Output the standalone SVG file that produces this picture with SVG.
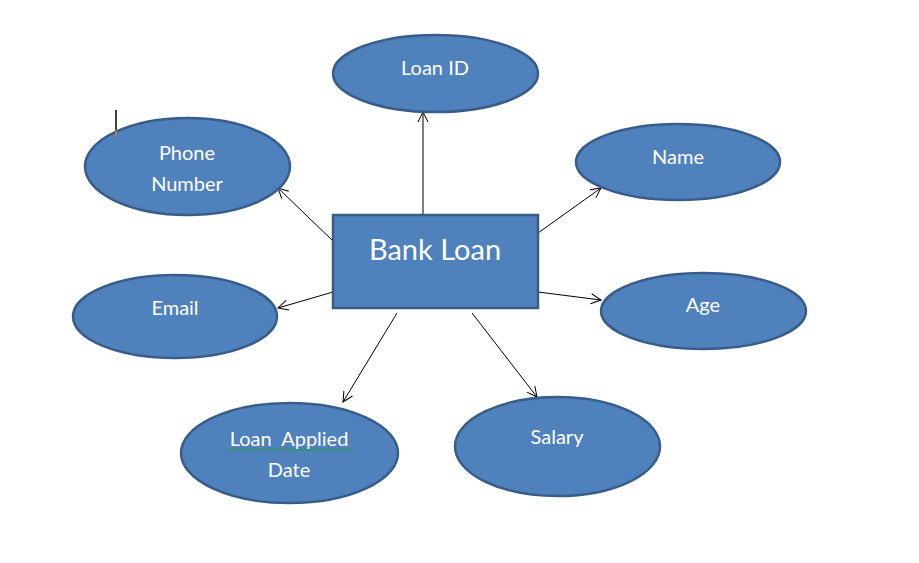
<svg xmlns="http://www.w3.org/2000/svg" width="919" height="563" viewBox="0 0 919 563">
<defs>
<style>
.n{fill:#4F81BD;stroke:#385D8A;stroke-width:2.5}
.t{fill:#fff;font-family:Lato,"Open Sans","Liberation Sans",sans-serif;font-size:20px;text-anchor:middle}
.c line{stroke:#000;stroke-width:1;marker-end:url(#ah)}
</style>
<marker id="ah" viewBox="0 0 12 12" refX="11" refY="6" markerWidth="12" markerHeight="12" markerUnits="userSpaceOnUse" orient="auto">
<path d="M1,1 L11,6 L1,11" fill="none" stroke="#000" stroke-width="1"/>
</marker>
</defs>
<rect width="919" height="563" fill="#fff"/>
<g class="c" id="connectors">
<line x1="423" y1="215" x2="423" y2="112"/>
<line x1="333" y1="241" x2="278" y2="188"/>
<line x1="538" y1="233" x2="601" y2="188"/>
<line x1="333" y1="292" x2="278" y2="308"/>
<line x1="538" y1="292" x2="601" y2="300"/>
<line x1="397" y1="313" x2="343" y2="402"/>
<line x1="472" y1="313" x2="537" y2="397"/>
</g>
<g id="bank-loan">
<rect class="n" x="333" y="215" width="205" height="93"/>
<text class="t" x="435" y="260" style="font-size:29px">Bank Loan</text>
</g>
<g id="loan-id">
<ellipse class="n" cx="435.5" cy="73.5" rx="102.5" ry="38.5"/>
<text class="t" x="435" y="75">Loan ID</text>
</g>
<g id="phone-number">
<ellipse class="n" cx="187.5" cy="166.5" rx="102.5" ry="48.5"/>
<text class="t" x="187" y="160">Phone</text>
<text class="t" x="187" y="191">Number</text>
</g>
<g id="name">
<ellipse class="n" cx="678" cy="162" rx="102" ry="38"/>
<text class="t" x="678" y="164">Name</text>
</g>
<g id="email">
<ellipse class="n" cx="175" cy="316.5" rx="102" ry="41.5"/>
<text class="t" x="175" y="315">Email</text>
</g>
<g id="age">
<ellipse class="n" cx="703.5" cy="311" rx="102.5" ry="38"/>
<text class="t" x="703" y="312">Age</text>
</g>
<g id="loan-applied-date">
<ellipse class="n" cx="289.5" cy="453" rx="108.5" ry="50"/>
<text class="t" x="289" y="446" xml:space="preserve">Loan  Applied</text>
<text class="t" x="289" y="477">Date</text>
<path d="M227,450.5 l2,-1.5 l2,1.5 l2,-1.5 l2,1.5 l2,-1.5 l2,1.5 l2,-1.5 l2,1.5 l2,-1.5 l2,1.5 l2,-1.5 l2,1.5 l2,-1.5 l2,1.5 l2,-1.5 l2,1.5 l2,-1.5 l2,1.5 l2,-1.5 l2,1.5 l2,-1.5 l2,1.5 l2,-1.5 l2,1.5 l2,-1.5 l2,1.5 l2,-1.5 l2,1.5 l2,-1.5 l2,1.5 l2,-1.5 l2,1.5 l2,-1.5 l2,1.5 l2,-1.5 l2,1.5 l2,-1.5 l2,1.5 l2,-1.5 l2,1.5 l2,-1.5 l2,1.5 l2,-1.5 l2,1.5 l2,-1.5 l2,1.5 l2,-1.5 l2,1.5 l2,-1.5 l2,1.5 l2,-1.5 l2,1.5 l2,-1.5 l2,1.5 l2,-1.5 l2,1.5 l2,-1.5 l2,1.5 l2,-1.5 l2,1.5 l2,-1.5 l2,1.5 l2,-1.5" fill="none" stroke="#1FA02A" stroke-width="1"/>
</g>
<g id="salary">
<ellipse class="n" cx="557.5" cy="446.5" rx="102.5" ry="49.5"/>
<text class="t" x="557" y="444">Salary</text>
</g>
<g id="cursor">
<line x1="116" y1="110" x2="116" y2="131" stroke="#000" stroke-width="1.5"/>
<line x1="116" y1="130" x2="116" y2="137" stroke="#C8873A" stroke-width="1.5"/>
</g>
</svg>
